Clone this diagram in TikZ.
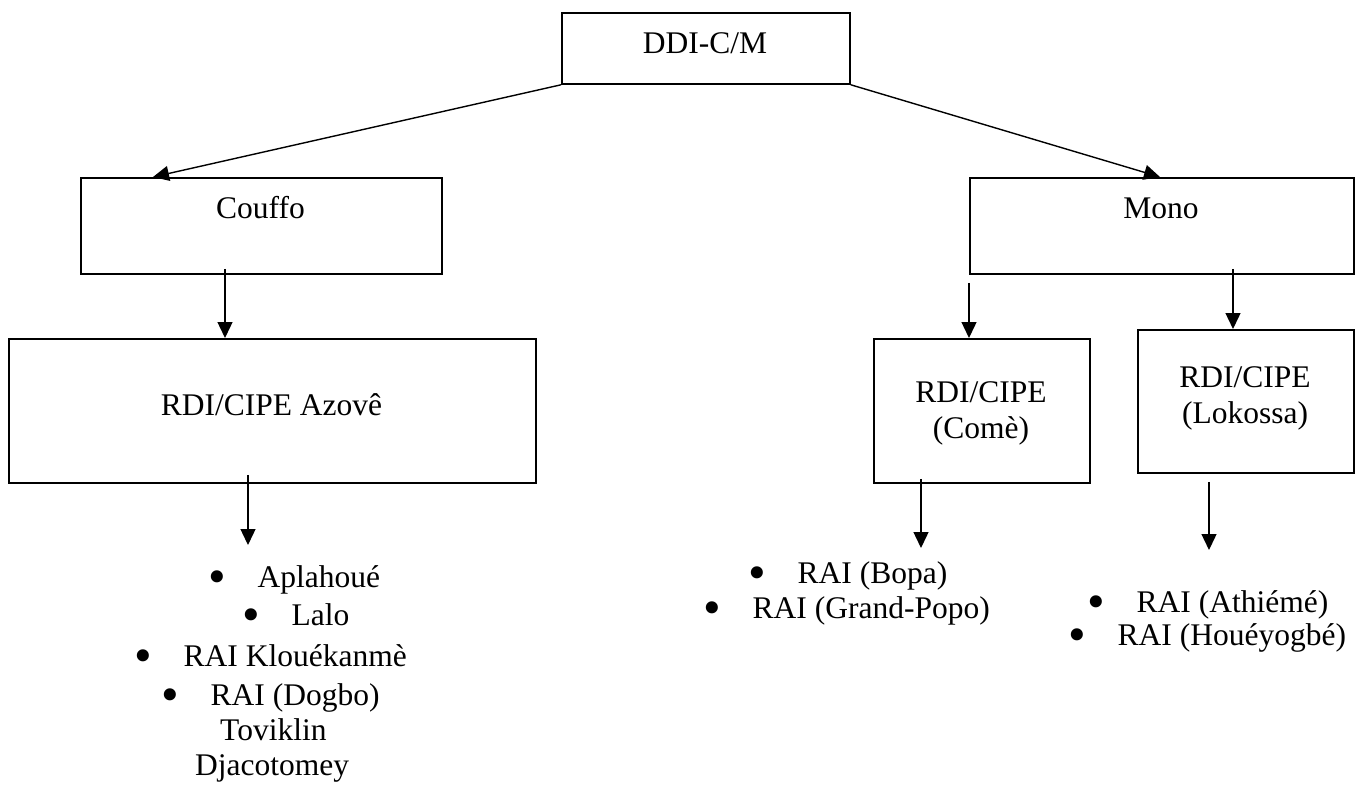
\documentclass[tikz,border=0pt]{standalone}
\usepackage{fontspec}
\usepackage{graphicx}
\setmainfont{Liberation Serif}
\usetikzlibrary{arrows.meta}

% list bullet, a little larger than the font's own
\newcommand{\listbullet}{\makebox[11pt][c]{\raisebox{-6pt}{\scalebox{1.6}{•}}}}

\begin{document}
\begin{tikzpicture}[x=1pt,y=-1pt,
  box/.style={draw,line width=1.8pt,inner sep=0pt,anchor=north west},
  lbl/.style={inner sep=0pt,anchor=base},
  item/.style={inner sep=0pt,anchor=base west},
  link/.style={line width=1.4pt,-{Triangle[length=16pt,width=15pt]}},
  font=\fontsize{31.5}{36}\selectfont]
\useasboundingbox (0,0) rectangle (1368,787);

% boxes
\node[box,minimum width=288pt,minimum height=71pt]  (ddi)     at (561,12)  {};
\node[box,minimum width=361pt,minimum height=96pt]  (couffo)  at (80,177)  {};
\node[box,minimum width=384pt,minimum height=96pt]  (mono)    at (969,177) {};
\node[box,minimum width=527pt,minimum height=144pt] (azove)   at (8,338)   {};
\node[box,minimum width=216pt,minimum height=144pt] (come)    at (873,338) {};
\node[box,minimum width=216pt,minimum height=143pt] (lokossa) at (1137,329) {};

% box captions
\node[lbl] (ddiT)     at (705,53)    {DDI-C/M};
\node[lbl] (couffoT)  at (260.5,218) {Couffo};
\node[lbl] (monoT)    at (1161,218)  {Mono};
\node[lbl] (azoveT)   at (271.5,415) {RDI/CIPE Azovê};
\node[lbl] (comeT)    at (981,402)   {RDI/CIPE};
\node[lbl] (comeU)    at (981,438)   {(Comè)};
\node[lbl] (lokossaT) at (1245,387)  {RDI/CIPE};
\node[lbl] (lokossaU) at (1245,423)  {(Lokossa)};

% bulleted lists
\node[item] (c1) at (211.5,587) {\listbullet\hspace{35pt}Aplahoué};
\node[item] (c2) at (245.5,625) {\listbullet\hspace{35pt}Lalo};
\node[item] (c3) at (137.5,666) {\listbullet\hspace{35pt}RAI Klouékanmè};
\node[item] (c4) at (164.5,705) {\listbullet\hspace{35pt}RAI (Dogbo)};
\node[item] (c5) at (220,740)   {Toviklin};
\node[item] (c6) at (195,775)   {Djacotomey};

\node[item] (m1) at (751.5,583)  {\listbullet\hspace{35pt}RAI (Bopa)};
\node[item] (m2) at (706.5,618)  {\listbullet\hspace{35pt}RAI (Grand-Popo)};

\node[item] (l1) at (1090.5,612) {\listbullet\hspace{35pt}RAI (Athiémé)};
\node[item] (l2) at (1071.5,645) {\listbullet\hspace{35pt}RAI (Houéyogbé)};

% free ends of the lower arrows
\coordinate (azoveEnd)   at (248,545);
\coordinate (comeEnd)    at (921,548);
\coordinate (lokossaEnd) at (1209,550);

% connectors
\draw[link] (ddi.south west) -- ([xshift=73pt]couffo.north west);
\draw[link] (ddi.south east) -- ([xshift=191pt]mono.north west);
\draw[link] ([xshift=145pt,yshift=6pt]couffo.south west) -- ([xshift=217pt]azove.north west);
\draw[link] ([yshift=-8pt]mono.south west) -- ([xshift=96pt]come.north west);
\draw[link] ([xshift=264pt,yshift=6pt]mono.south west) -- ([xshift=96pt]lokossa.north west);
\draw[link] ([xshift=240pt,yshift=9pt]azove.south west) -- (azoveEnd);
\draw[link] ([xshift=48pt,yshift=5pt]come.south west) -- (comeEnd);
\draw[link] ([xshift=72pt,yshift=-8pt]lokossa.south west) -- (lokossaEnd);
\end{tikzpicture}
\end{document}
